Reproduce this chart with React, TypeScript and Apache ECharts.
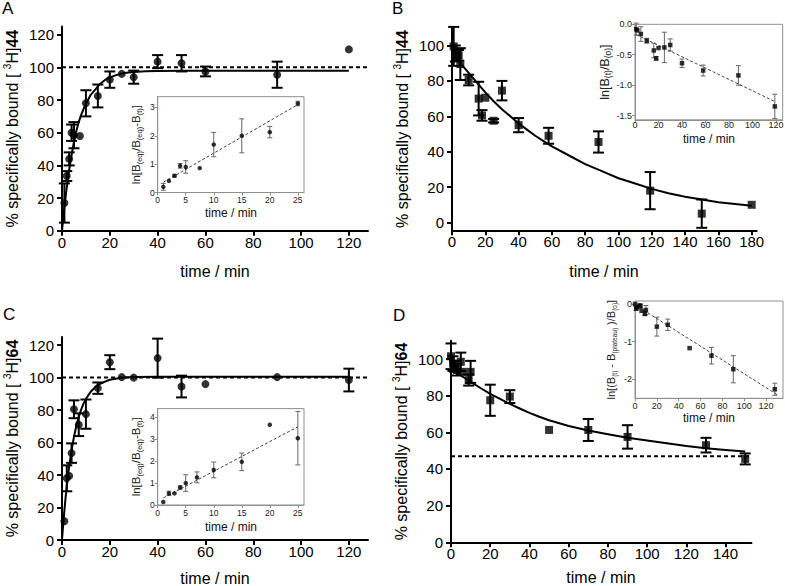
import React, { useEffect, useRef } from "react";
import * as echarts from "echarts";

const FONT = "'Liberation Sans', Arial, Helvetica, sans-serif";

// ---------- Panel A (association, [3H]44) ----------
const aTime = [1, 2, 3, 4, 5, 7.5, 10, 15, 20, 25, 30, 40, 50, 60, 90, 120];
const aBound = [17, 33.5, 44, 60, 58.5, 58, 78, 82.5, 92.5, 96, 94, 103.5, 102.5, 97.5, 95.5, 111];
const aErr = [12, 3, 4, 5, 8, 0, 8, 7, 5, 0, 4, 4, 5, 3, 8, 0];
const aFitTime = [0, 0.5, 1, 1.5, 2, 2.5, 3, 4, 5, 6, 7, 8, 9, 10, 12, 14, 16, 18, 20, 23, 26, 30, 35, 40, 50, 60, 120];
const aFitBound = [0, 7.4, 14.3, 20.7, 26.6, 32.1, 37.2, 46.4, 54.3, 61.1, 66.5, 70.9, 74.5, 77.6, 83.2, 86.5, 90, 92.3, 93.9, 95.4, 96.5, 97.1, 97.6, 97.8, 98, 98, 98];
const aPlateau = 100;
// inset A
const aiTime = [1, 2, 3, 4, 5, 7.5, 10, 15, 20, 25];
const aiVal = [0.2, 0.41, 0.59, 0.94, 0.9, 0.86, 1.69, 2.0, 2.13, 3.14];
const aiErr = [0.12, 0, 0.04, 0.08, 0.22, 0, 0.43, 0.6, 0.2, 0.08];
const aiLineTime = [1, 25];
const aiLineVal = [0.36, 3.1];

// ---------- Panel B (dissociation, [3H]44) ----------
const bTime = [1, 2, 4, 5, 10, 16, 18, 20, 25, 30, 40, 58, 88, 119, 150, 180];
const bBound = [99.5, 95.5, 94.5, 89.5, 80.5, 70, 60.5, 70.5, 57.5, 74.5, 55, 49, 45.5, 18, 5, 10];
const bErr = [11, 4.5, 3, 9, 3, 9.5, 3, 0, 1, 5.5, 4, 4.5, 6, 10.5, 8, 0];
const bFitTime = [0, 5, 10, 15, 20, 25, 30, 35, 40, 45, 50, 55, 60, 70, 80, 90, 100, 110, 120, 130, 140, 150, 160, 170, 180];
const bFitBound = [96, 90, 84.5, 79, 73.5, 68.5, 64, 60, 56, 52.5, 49, 46, 43, 38, 33, 29, 25, 22, 19, 16.5, 14.5, 13, 11.5, 10.4, 9.5];
// inset B
const biTime = [1, 2, 5, 10, 16, 18, 20, 25, 30, 40, 58, 88, 119];
const biVal = [-0.08, -0.1, -0.16, -0.27, -0.43, -0.56, -0.39, -0.38, -0.34, -0.64, -0.76, -0.84, -1.35];
const biErr = [0.1, 0, 0.12, 0.04, 0.12, 0.03, 0, 0.25, 0.1, 0.07, 0.09, 0.16, 0.2];
const biLineTime = [1, 119];
const biLineVal = [-0.17, -1.27];

// ---------- Panel C (association, [3H]64) ----------
const cTime = [1, 2, 3, 4, 5, 7, 10, 15, 20, 25, 30, 40, 50, 60, 90, 120];
const cBound = [11.5, 38, 39.5, 53.5, 80.5, 71, 77.5, 93.5, 109.5, 100.3, 100, 112, 94.5, 96, 100.3, 98.5];
const cErr = [0, 8, 0, 6, 5.5, 7, 9, 3.5, 4.3, 0, 0, 12, 6.7, 0, 0, 7];
const cFitTime = [0, 0.5, 1, 1.5, 2, 2.5, 3, 4, 5, 6, 7, 8, 9, 10, 12, 14, 16, 18, 20, 23, 26, 30, 40, 60, 120];
const cFitBound = [0, 9.6, 18.2, 26.1, 33.1, 39.6, 45.4, 55.3, 63.5, 70.3, 75.8, 80.3, 84, 86.9, 91.3, 94.2, 96.2, 97.5, 98.7, 99.5, 100, 100.3, 100.5, 100.5, 100.5];
const cPlateau = 100;
// inset C
const ciTime = [1, 2, 3, 4, 5, 7, 10, 15, 20, 25];
const ciVal = [0.14, 0.53, 0.53, 0.8, 1.0, 1.26, 1.6, 1.97, 3.66, 3.05];
const ciErr = [0, 0.1, 0, 0.08, 0.38, 0.25, 0.36, 0.4, 0, 1.22];
const ciLineTime = [1, 25];
const ciLineVal = [0.32, 3.57];

// ---------- Panel D (dissociation, [3H]64) ----------
const dTime = [0, 1, 2, 3, 5, 6, 9, 10, 20, 30, 50, 70, 90, 130, 150];
const dBound = [101.5, 97.5, 96, 94, 98.5, 93, 88.5, 93, 77.5, 79.5, 61.3, 61.3, 57.5, 53, 45.5];
const dErr = [7, 4, 3, 3, 5, 0, 3, 6, 8.5, 3.5, 0, 6, 6.4, 4, 3];
const dFitTime = [0, 5, 10, 15, 20, 25, 30, 35, 40, 45, 50, 60, 70, 80, 90, 100, 110, 120, 130, 140, 150];
const dFitBound = [95, 91, 87.5, 84.2, 81, 78.2, 75.5, 73, 70.6, 68.5, 66.6, 63.5, 61, 59, 57, 55.5, 54, 52.5, 51.3, 50.3, 49.5];
const dPlateau = 47;
// inset D
const diTime = [0, 1, 2, 4, 5, 6, 9, 10, 20, 30, 50, 70, 90, 128];
const diVal = [0, -0.12, -0.09, -0.04, -0.05, -0.18, -0.26, -0.16, -0.6, -0.55, -1.17, -1.37, -1.73, -2.26];
const diErr = [0, 0.05, 0, 0, 0.05, 0, 0.05, 0.12, 0.25, 0.15, 0, 0.22, 0.36, 0.16];
const diLineTime = [0, 130];
const diLineVal = [-0.02, -2.4];

// tick labels
const mainTicksA = [0, 20, 40, 60, 80, 100, 120];
const mainTicksB = [0, 20, 40, 60, 80, 100, 120, 140, 160, 180];
const mainTicksD = [0, 20, 40, 60, 80, 100, 120, 140];
const yTicks120 = [0, 20, 40, 60, 80, 100, 120];
const yTicks100 = [0, 20, 40, 60, 80, 100];
const insetXTicksAC = [0, 5, 10, 15, 20, 25];
const insetYTicksA = [0, 1, 2, 3];
const insetYTicksC = [0, 1, 2, 3, 4];
const insetXTicksB = [0, 20, 40, 60, 80, 100, 120];
const insetYTicksB = [0, -0.5, -1.0, -1.5];
const insetYTicksD = [0, -1, -2];
const xTitle = "time / min";

const pairs = (t: number[], v: number[]) => t.map((x, i) => [x, v[i]]);
const triples = (t: number[], v: number[], e: number[]) =>
  t.map((x, i) => [x, v[i], e[i]]).filter((d) => d[2] > 0);

const errRender = (half: number, color: string, width: number) => (params: any, api: any) => {
  const x = api.value(0);
  const y = api.value(1);
  const e = api.value(2);
  const top = api.coord([x, y + e]);
  const bot = api.coord([x, y - e]);
  const style = { stroke: color, lineWidth: width };
  return {
    type: "group",
    children: [
      { type: "line", shape: { x1: top[0], y1: top[1], x2: bot[0], y2: bot[1] }, style },
      { type: "line", shape: { x1: top[0] - half, y1: top[1], x2: top[0] + half, y2: top[1] }, style },
      { type: "line", shape: { x1: bot[0] - half, y1: bot[1], x2: bot[0] + half, y2: bot[1] }, style },
    ],
  };
};

const mainGrid = (left: number, top: number, width: number, height: number) => ({
  left, top, width, height, containLabel: false, outerBoundsMode: "none",
});
const insetGrid = (left: number, top: number, width: number, height: number) => ({
  left, top, width, height, containLabel: false, outerBoundsMode: "none",
  show: true, borderColor: "#8f8f8f", borderWidth: 1, backgroundColor: "#ffffff", z: 3,
});

const plain = { fontWeight: "normal", textBorderWidth: 0, textBorderColor: "transparent", textShadowBlur: 0 };

const mainX = (gi: number, max: number, ticks: number[]) => ({
  type: "value", gridIndex: gi, min: 0, max,
  axisLine: { show: true, onZero: false, lineStyle: { color: "#000", width: 2 } },
  axisTick: { show: true, length: 5, lineStyle: { color: "#000", width: 2 }, customValues: ticks },
  axisLabel: { fontSize: 15, color: "#000", fontFamily: FONT, margin: 4, customValues: ticks },
  splitLine: { show: false },
});

const mainYRich = {
  n: { fontSize: 16, fontFamily: FONT, color: "#000", lineHeight: 20, ...plain },
  sup: { fontSize: 10, fontFamily: FONT, color: "#000", lineHeight: 11, verticalAlign: "top", ...plain },
  b: { fontSize: 16, fontFamily: FONT, color: "#000", lineHeight: 20, ...plain, fontWeight: "bold" },
};

const mainY = (gi: number, min: number, max: number, ticks: number[], compound: string) => ({
  type: "value", gridIndex: gi, min, max,
  axisLine: { show: true, onZero: false, lineStyle: { color: "#000", width: 2 } },
  axisTick: { show: true, length: 5, lineStyle: { color: "#000", width: 2 }, customValues: ticks },
  axisLabel: { fontSize: 15, color: "#000", fontFamily: FONT, margin: 8, customValues: ticks },
  splitLine: { show: false },
  name: "{n|% specifically bound [ }{sup|3}{n|H]}{b|" + compound + "}",
  nameLocation: "middle", nameGap: 40,
  nameTextStyle: { ...plain, rich: mainYRich },
});

const insetX = (gi: number, max: number, ticks: number[], fs: number, margin = 3) => ({
  type: "value", gridIndex: gi, min: 0, max,
  axisLine: { show: true, onZero: false, lineStyle: { color: "#8f8f8f", width: 1 } },
  axisTick: { show: true, length: 3, lineStyle: { color: "#8f8f8f", width: 1 }, customValues: ticks },
  axisLabel: { fontSize: fs, color: "#222", fontFamily: FONT, margin, customValues: ticks },
  splitLine: { show: false },
  z: 4,
});

const insetRich = (fs: number, ss: number) => ({
  n: { fontSize: fs, fontFamily: FONT, color: "#222", lineHeight: fs + 3, ...plain },
  s: { fontSize: ss, fontFamily: FONT, color: "#222", lineHeight: ss, verticalAlign: "bottom", ...plain },
});

const insetY = (gi: number, min: number, max: number, ticks: number[], name: string, gap: number,
  fs: number, nfs: number, sfs: number, fmt?: (v: number) => string) => ({
  type: "value", gridIndex: gi, min, max,
  axisLine: { show: true, onZero: false, lineStyle: { color: "#8f8f8f", width: 1 } },
  axisTick: { show: true, length: 3, lineStyle: { color: "#8f8f8f", width: 1 }, customValues: ticks },
  axisLabel: { fontSize: fs, color: "#222", fontFamily: FONT, margin: 3, customValues: ticks, formatter: fmt },
  splitLine: { show: false },
  name, nameLocation: "middle", nameGap: gap,
  nameTextStyle: { ...plain, rich: insetRich(nfs, sfs) },
  z: 4,
});

const mainSeries = (gi: number, t: number[], v: number[], e: number[], fitT: number[], fitV: number[],
  symbol: string, plateau: number | null, plateauMax: number) => {
  const s: any[] = [
    {
      type: "custom", xAxisIndex: gi, yAxisIndex: gi, clip: false, z: 2,
      renderItem: errRender(5.5, "#000", 2), data: triples(t, v, e), encode: { x: 0, y: 1 },
    },
    {
      type: "line", xAxisIndex: gi, yAxisIndex: gi, data: pairs(fitT, fitV), showSymbol: false,
      smooth: false, lineStyle: { color: "#000", width: 2, join: "round" }, z: 3,
    },
    {
      type: "scatter", xAxisIndex: gi, yAxisIndex: gi, data: pairs(t, v), symbol, symbolSize: 8,
      itemStyle: { color: "#000" }, z: 4,
    },
  ];
  if (plateau !== null) {
    s.push({
      type: "line", xAxisIndex: gi, yAxisIndex: gi, data: [[0, plateau], [plateauMax, plateau]],
      showSymbol: false, lineStyle: { color: "#000", width: 2, type: [4, 3] }, z: 2,
    });
  }
  return s;
};

const insetSeries = (gi: number, t: number[], v: number[], e: number[], lt: number[], lv: number[],
  symbol: string) => [
  {
    type: "line", xAxisIndex: gi, yAxisIndex: gi, data: pairs(lt, lv), showSymbol: false, z: 5,
    lineStyle: { color: "#444", width: 1, type: [3, 2] },
  },
  {
    type: "custom", xAxisIndex: gi, yAxisIndex: gi, clip: false, z: 5,
    renderItem: errRender(2.5, "#666", 1), data: triples(t, v, e), encode: { x: 0, y: 1 },
  },
  {
    type: "scatter", xAxisIndex: gi, yAxisIndex: gi, data: pairs(t, v), symbol, symbolSize: 4.5,
    itemStyle: { color: "#000" }, z: 6,
  },
];

const nameAC = "{n|ln[B}{s|(eq)}{n|/B}{s|(eq)}{n|-B}{s|(t)}{n|]}";
const nameB = "{n|ln[B}{s|(t)}{n|/B}{s|(o)}{n|]}";
const nameD = "{n|ln[(B}{s|(t)}{n| - B}{s|(plateau)}{n| )/B}{s|(o)}{n|]}";

const label = (text: string, x: number, y: number, fs: number, color = "#000") => ({
  type: "text", x, y, z: 10,
  style: { text, fontSize: fs, fontFamily: FONT, fontWeight: "normal", fill: color, align: "center", verticalAlign: "middle" },
});

export default function App() {
  const ref = useRef<HTMLDivElement>(null);
  useEffect(() => {
    if (!ref.current) return;
    const chart = echarts.init(ref.current, undefined, { renderer: "svg" });
    const option: any = {
      animation: false,
      backgroundColor: "#ffffff",
      textStyle: { fontFamily: FONT },
      grid: [
        mainGrid(62, 26.5, 306, 204.3),
        insetGrid(157.7, 96.7, 146.3, 95.8),
        mainGrid(452, 27.8, 304.7, 202.5),
        insetGrid(635, 24.3, 147.7, 95.5),
        mainGrid(62, 337, 306, 203),
        insetGrid(157.7, 408.6, 146.3, 96.4),
        mainGrid(451, 340.7, 300.5, 201.6),
        insetGrid(635, 301, 148, 97.3),
      ],
      xAxis: [
        mainX(0, 128, mainTicksA),
        insetX(1, 26.1, insetXTicksAC, 8.5),
        mainX(2, 183, mainTicksB),
        insetX(3, 125.7, insetXTicksB, 9, 1),
        mainX(4, 128, mainTicksA),
        insetX(5, 26.1, insetXTicksAC, 8.5),
        mainX(6, 153.2, mainTicksD),
        insetX(7, 135.5, insetXTicksB, 9),
      ],
      yAxis: [
        mainY(0, 0, 125, yTicks120, "44"),
        insetY(1, 0, 3.38, insetYTicksA, nameAC, 14, 8.5, 11.5, 7.5),
        mainY(2, -4.4, 110, yTicks100, "44"),
        insetY(3, -1.57, 0, insetYTicksB, nameB, 21, 9, 12.5, 8.5, (v: number) => v.toFixed(1)),
        mainY(4, 0, 125, yTicks120, "64"),
        insetY(5, 0, 4.4, insetYTicksC, nameAC, 14, 8.5, 11.5, 7.5),
        mainY(6, 0, 110, yTicks100, "64"),
        insetY(7, -2.5, 0.08, insetYTicksD, nameD, 17, 9, 11, 6.5),
      ],
      series: [
        ...mainSeries(0, aTime, aBound, aErr, aFitTime, aFitBound, "circle", aPlateau, 128),
        ...insetSeries(1, aiTime, aiVal, aiErr, aiLineTime, aiLineVal, "circle"),
        ...mainSeries(2, bTime, bBound, bErr, bFitTime, bFitBound, "rect", null, 0),
        ...insetSeries(3, biTime, biVal, biErr, biLineTime, biLineVal, "rect"),
        ...mainSeries(4, cTime, cBound, cErr, cFitTime, cFitBound, "circle", cPlateau, 128),
        ...insetSeries(5, ciTime, ciVal, ciErr, ciLineTime, ciLineVal, "circle"),
        ...mainSeries(6, dTime, dBound, dErr, dFitTime, dFitBound, "rect", dPlateau, 153.2),
        ...insetSeries(7, diTime, diVal, diErr, diLineTime, diLineVal, "rect"),
      ],
      graphic: [
        { type: "text", left: 2, top: 0, style: { text: "A", fontSize: 17, fontFamily: FONT, fill: "#000" } },
        { type: "text", left: 392, top: 0, style: { text: "B", fontSize: 17, fontFamily: FONT, fill: "#000" } },
        { type: "text", left: 3, top: 306, style: { text: "C", fontSize: 17, fontFamily: FONT, fill: "#000" } },
        { type: "text", left: 393, top: 307, style: { text: "D", fontSize: 17, fontFamily: FONT, fill: "#000" } },
        label(xTitle, 215, 271, 16),
        label(xTitle, 604, 271, 16),
        label(xTitle, 215, 578, 16),
        label(xTitle, 601, 577, 16),
        label(xTitle, 231, 213, 12, "#111"),
        label(xTitle, 709, 139, 12, "#111"),
        label(xTitle, 231, 527, 12, "#111"),
        label(xTitle, 709, 418, 12, "#111"),
      ],
    };
    chart.setOption(option);
    return () => chart.dispose();
  }, []);
  return (
    <div
      ref={ref}
      style={{ position: "fixed", left: 0, top: 0, width: 785, height: 586, background: "#fff" }}
    />
  );
}
